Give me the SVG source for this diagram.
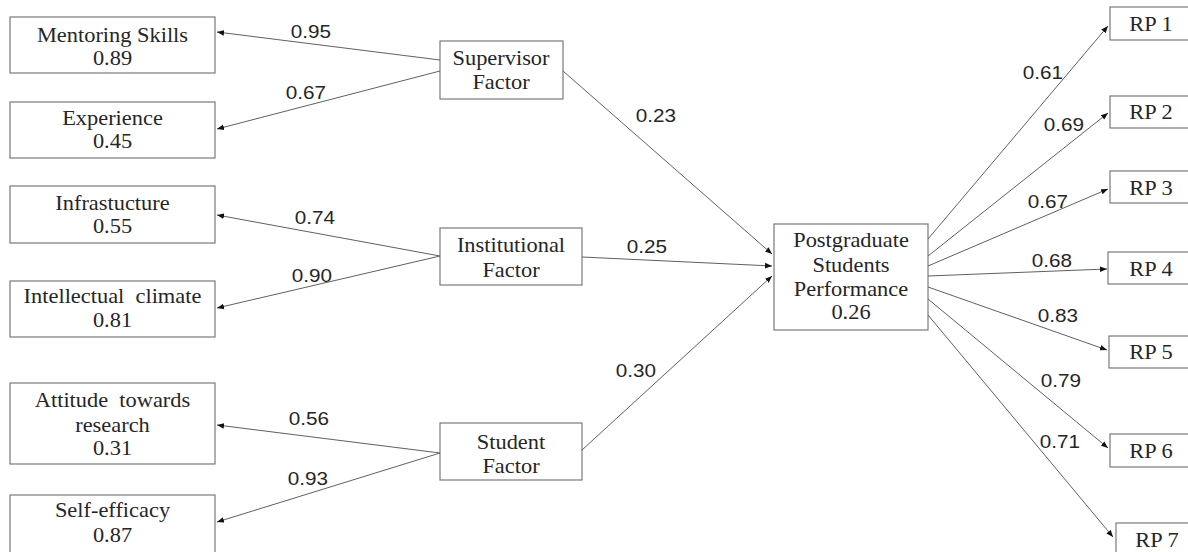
<svg xmlns="http://www.w3.org/2000/svg" width="1188" height="552" viewBox="0 0 1188 552">
<style>
.box{fill:#fff;stroke:#7a7a7a;stroke-width:1.2}
.t{font-family:"Liberation Serif","Times New Roman",serif;font-size:20px;fill:#262626;text-anchor:middle}
.e{stroke:#606060;stroke-width:1;fill:none;marker-end:url(#ah)}
.l{font-family:"Liberation Sans",Arial,sans-serif;font-size:18px;fill:#262626;text-anchor:middle}
</style>
<defs>
<marker id="ah" viewBox="0 0 10 10" refX="10" refY="5" markerWidth="7" markerHeight="7" orient="auto" markerUnits="userSpaceOnUse">
<path d="M0,1 L10,5 L0,9 z" fill="#111"/>
</marker>
</defs>
<rect width="1188" height="552" fill="#fff"/>
<g id="n-mentoring"><rect class="box" x="10" y="17" width="205" height="56"/><text class="t" transform="translate(112.5,42) scale(1.12,1)">Mentoring Skills</text><text class="t" transform="translate(112.5,65) scale(1.12,1)">0.89</text></g>
<g id="n-experience"><rect class="box" x="10" y="102" width="205" height="56"/><text class="t" transform="translate(112.5,125) scale(1.12,1)">Experience</text><text class="t" transform="translate(112.5,148) scale(1.12,1)">0.45</text></g>
<g id="n-infra"><rect class="box" x="10" y="186" width="205" height="57"/><text class="t" transform="translate(112.5,210) scale(1.12,1)">Infrastucture</text><text class="t" transform="translate(112.5,233) scale(1.12,1)">0.55</text></g>
<g id="n-intellectual"><rect class="box" x="10" y="281" width="205" height="56"/><text class="t" transform="translate(112.5,303) scale(1.12,1)">Intellectual&#160; climate</text><text class="t" transform="translate(112.5,327) scale(1.12,1)">0.81</text></g>
<g id="n-attitude"><rect class="box" x="10" y="383" width="205" height="81"/><text class="t" transform="translate(112.5,407) scale(1.12,1)">Attitude&#160; towards</text><text class="t" transform="translate(112.5,432) scale(1.12,1)">research</text><text class="t" transform="translate(112.5,455) scale(1.12,1)">0.31</text></g>
<g id="n-selfefficacy"><rect class="box" x="10" y="495" width="205" height="60"/><text class="t" transform="translate(112.5,517) scale(1.12,1)">Self-efficacy</text><text class="t" transform="translate(112.5,542) scale(1.12,1)">0.87</text></g>
<g id="n-supervisor"><rect class="box" x="440" y="41" width="123" height="58"/><text class="t" transform="translate(501,65) scale(1.12,1)">Supervisor</text><text class="t" transform="translate(501,89) scale(1.12,1)">Factor</text></g>
<g id="n-institutional"><rect class="box" x="440" y="228" width="142" height="57"/><text class="t" transform="translate(511,252) scale(1.12,1)">Institutional</text><text class="t" transform="translate(511,277) scale(1.12,1)">Factor</text></g>
<g id="n-student"><rect class="box" x="440" y="423" width="142" height="57"/><text class="t" transform="translate(511,449) scale(1.12,1)">Student</text><text class="t" transform="translate(511,473) scale(1.12,1)">Factor</text></g>
<g id="n-pgs"><rect class="box" x="774" y="224" width="154" height="106"/><text class="t" transform="translate(851,247) scale(1.12,1)">Postgraduate</text><text class="t" transform="translate(851,272) scale(1.12,1)">Students</text><text class="t" transform="translate(851,296) scale(1.12,1)">Performance</text><text class="t" transform="translate(851,319) scale(1.12,1)">0.26</text></g>
<g id="n-rp1"><rect class="box" x="1110" y="7" width="86" height="33"/><text class="t" transform="translate(1151,31) scale(1.12,1)">RP 1</text></g>
<g id="n-rp2"><rect class="box" x="1110" y="96" width="86" height="32"/><text class="t" transform="translate(1151,119) scale(1.12,1)">RP 2</text></g>
<g id="n-rp3"><rect class="box" x="1110" y="171" width="86" height="32"/><text class="t" transform="translate(1151,195) scale(1.12,1)">RP 3</text></g>
<g id="n-rp4"><rect class="box" x="1108" y="252" width="88" height="32"/><text class="t" transform="translate(1151,276) scale(1.12,1)">RP 4</text></g>
<g id="n-rp5"><rect class="box" x="1109" y="336" width="87" height="32"/><text class="t" transform="translate(1151,359) scale(1.12,1)">RP 5</text></g>
<g id="n-rp6"><rect class="box" x="1110" y="434" width="86" height="33"/><text class="t" transform="translate(1151,458) scale(1.12,1)">RP 6</text></g>
<g id="n-rp7"><rect class="box" x="1116" y="523" width="80" height="34"/><text class="t" transform="translate(1157,547) scale(1.12,1)">RP 7</text></g>
<g id="connectors">
<line class="e" x1="440" y1="60" x2="217" y2="32"/>
<line class="e" x1="440" y1="71" x2="217" y2="129"/>
<line class="e" x1="563" y1="71" x2="772" y2="254"/>
<line class="e" x1="440" y1="256" x2="217" y2="215"/>
<line class="e" x1="440" y1="256" x2="217" y2="308"/>
<line class="e" x1="582" y1="257" x2="772" y2="266"/>
<line class="e" x1="440" y1="453" x2="217" y2="425"/>
<line class="e" x1="440" y1="453" x2="217" y2="522"/>
<line class="e" x1="582" y1="450" x2="772" y2="276"/>
<line class="e" x1="928" y1="239" x2="1108" y2="26"/>
<line class="e" x1="928" y1="256" x2="1108" y2="113"/>
<line class="e" x1="928" y1="266" x2="1108" y2="189"/>
<line class="e" x1="928" y1="276" x2="1107" y2="269"/>
<line class="e" x1="928" y1="287" x2="1107" y2="350"/>
<line class="e" x1="928" y1="299" x2="1108" y2="448"/>
<line class="e" x1="928" y1="315" x2="1113" y2="537"/>
<text class="l" transform="translate(311,38) scale(1.15,1)">0.95</text>
<text class="l" transform="translate(306,99) scale(1.15,1)">0.67</text>
<text class="l" transform="translate(656,122) scale(1.15,1)">0.23</text>
<text class="l" transform="translate(315,224) scale(1.15,1)">0.74</text>
<text class="l" transform="translate(312,282) scale(1.15,1)">0.90</text>
<text class="l" transform="translate(647,253) scale(1.15,1)">0.25</text>
<text class="l" transform="translate(309,425) scale(1.15,1)">0.56</text>
<text class="l" transform="translate(308,485) scale(1.15,1)">0.93</text>
<text class="l" transform="translate(636,377) scale(1.15,1)">0.30</text>
<text class="l" transform="translate(1043,79) scale(1.15,1)">0.61</text>
<text class="l" transform="translate(1064,131) scale(1.15,1)">0.69</text>
<text class="l" transform="translate(1048,208) scale(1.15,1)">0.67</text>
<text class="l" transform="translate(1052,267) scale(1.15,1)">0.68</text>
<text class="l" transform="translate(1058,322) scale(1.15,1)">0.83</text>
<text class="l" transform="translate(1061,387) scale(1.15,1)">0.79</text>
<text class="l" transform="translate(1060,448) scale(1.15,1)">0.71</text>
</g>
</svg>
